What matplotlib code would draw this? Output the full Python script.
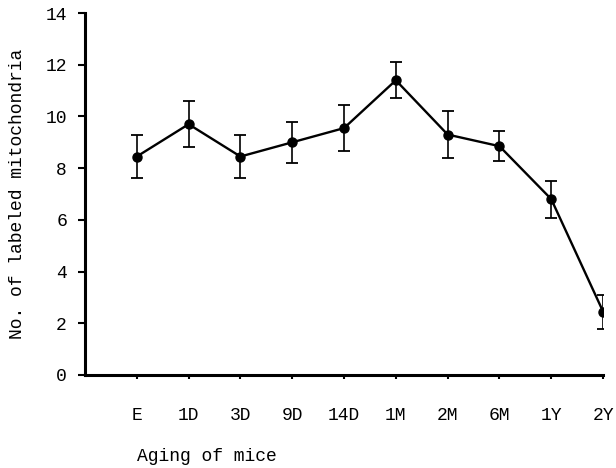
import matplotlib
matplotlib.use('Agg')
import matplotlib.pyplot as plt

ages = ["E", "1D", "3D", "9D", "14D", "1M", "2M", "6M", "1Y", "2Y"]
labeled = [8.45, 9.7, 8.45, 9.0, 9.55, 11.4, 9.3, 8.85, 6.8, 2.45]
err = [0.85, 0.9, 0.85, 0.8, 0.9, 0.7, 0.9, 0.57, 0.72, 0.66]

plt.rcParams['font.family'] = ['Liberation Mono', 'DejaVu Sans Mono']

fig = plt.figure(figsize=(6.16, 4.68), dpi=100)
ax = fig.add_axes([0.138, 0.199, 0.841, 0.773])

x = list(range(len(ages)))
ax.errorbar(x, labeled, yerr=err, color='black', marker='o', markersize=6.5,
            linewidth=1.7, elinewidth=1.2, capsize=4.5, capthick=1.3)

ax.set_xlim(-1, 9)
ax.set_ylim(0, 14)
ax.set_xticks(x)
ax.set_xticklabels(ages, fontsize=13)
ax.set_yticks(range(0, 15, 2))
ax.set_yticklabels([str(v) for v in range(0, 15, 2)], fontsize=13)

for s in ['top', 'right']:
    ax.spines[s].set_visible(False)
for s in ['left', 'bottom']:
    ax.spines[s].set_linewidth(2.2)

ax.tick_params(axis='y', direction='out', length=5, width=1.5, pad=8)
ax.tick_params(axis='x', direction='out', length=3, width=1.5, pad=20)

ax.set_ylabel('No. of labeled mitochondria', fontsize=13, labelpad=14)
fig.text(0.222, 0.024, 'Aging of mice', fontsize=13, ha='left', va='center')

fig.savefig('out.png', dpi=100)
